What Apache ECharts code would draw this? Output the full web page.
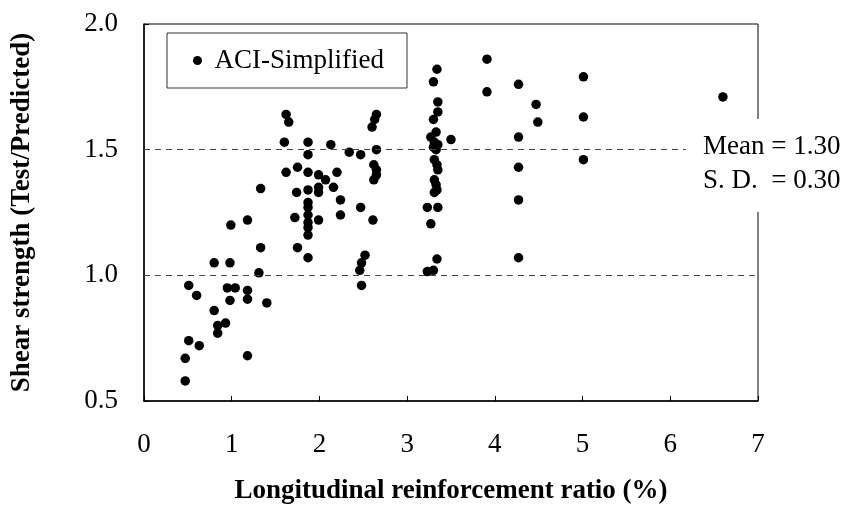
<!DOCTYPE html>
<html>
<head>
<meta charset="utf-8">
<script src="https://cdn.jsdelivr.net/npm/echarts@6/dist/echarts.min.js"></script>
<style>
  html, body { margin: 0; padding: 0; background: #fff; }
  #chart { width: 852px; height: 529px; }
</style>
</head>
<body>
<div id="chart"></div>
<script>
// longitudinal reinforcement ratio (%) and test/predicted strength
const ratio = [
  0.47, 0.47, 0.51, 0.63, 0.51, 0.60, 0.80, 0.80, 0.84, 0.93, 0.84, 0.99,
  0.98, 0.95, 1.04, 0.98, 1.18, 1.18, 1.18, 1.18, 1.33, 1.31, 1.40, 1.33,
  1.62, 1.65, 1.60, 1.87, 1.87, 2.13, 2.34, 1.62, 1.75, 1.87, 1.99, 2.07,
  2.20, 1.74, 1.87, 1.99, 1.99, 2.16, 2.24, 2.24, 1.87, 1.87, 1.87, 1.87,
  1.87, 1.87, 1.72, 1.99, 1.75, 1.87,
  2.65, 2.63, 2.60, 2.65, 2.47, 2.62, 2.65, 2.65, 2.62, 2.47, 2.61, 2.52,
  2.48, 2.46, 2.48,
  3.34, 3.30, 3.35, 3.35, 3.30, 3.33, 3.27, 3.31, 3.50, 3.35, 3.30, 3.33,
  3.31, 3.34, 3.35, 3.31, 3.33, 3.34, 3.31, 3.23, 3.35, 3.27, 3.34, 3.30,
  3.23,
  3.91, 3.91, 4.27, 4.47, 4.49, 4.27, 4.27, 4.27, 4.27, 5.01, 5.01, 5.01,
  6.60
];
const strength = [
  0.58, 0.67, 0.74, 0.72, 0.96, 0.92, 1.05, 0.86, 0.80, 0.81, 0.77, 1.20,
  1.05, 0.95, 0.95, 0.90, 1.22, 0.94, 0.905, 0.68, 1.11, 1.01, 0.89, 1.345,
  1.64, 1.61, 1.53, 1.53, 1.48, 1.52, 1.49, 1.41, 1.43, 1.41, 1.40, 1.38,
  1.41, 1.33, 1.34, 1.35, 1.33, 1.35, 1.30, 1.24, 1.29, 1.27, 1.24, 1.21,
  1.19, 1.16, 1.23, 1.22, 1.11, 1.07,
  1.64, 1.62, 1.59, 1.50, 1.48, 1.44, 1.42, 1.40, 1.38, 1.27, 1.22, 1.08,
  1.05, 1.02, 0.96,
  1.82, 1.77, 1.69, 1.65, 1.62, 1.57, 1.55, 1.53, 1.54, 1.52, 1.51, 1.50,
  1.46, 1.44, 1.42, 1.38, 1.36, 1.34, 1.33, 1.27, 1.27, 1.205, 1.065, 1.02,
  1.015,
  1.86, 1.73, 1.76, 1.68, 1.61, 1.55, 1.43, 1.30, 1.07, 1.79, 1.63, 1.46,
  1.71
];
const refLines = [1.5, 1.0];
const seriesName = 'ACI-Simplified';
const statsText = ['Mean = 1.30', 'S. D.  = 0.30'];

const serif = '"Liberation Serif", "Times New Roman", serif';
const points = ratio.map((r, i) => [r, strength[i]]);

const chart = echarts.init(document.getElementById('chart'), null, { renderer: 'canvas' });

chart.setOption({
  animation: false,
  backgroundColor: '#fff',
  grid: {
    left: 144, right: 94, top: 24, bottom: 128,
    show: true, borderColor: '#000', borderWidth: 1
  },
  legend: {
    left: 167, top: 33,
    data: [seriesName],
    icon: 'circle',
    itemWidth: 24, itemHeight: 9,
    padding: [14, 23, 14, 26],
    borderColor: '#333', borderWidth: 1,
    textStyle: { fontFamily: serif, fontSize: 27, color: '#000' }
  },
  xAxis: {
    type: 'value', min: 0, max: 7, interval: 1,
    name: 'Longitudinal reinforcement ratio (%)',
    nameLocation: 'middle', nameGap: 77,
    nameTextStyle: { fontFamily: serif, fontSize: 27, fontWeight: 'bold', color: '#000' },
    axisLine: { lineStyle: { color: '#000', width: 1.5 } },
    axisTick: { inside: true, length: 5, lineStyle: { color: '#000' } },
    axisLabel: { margin: 30, fontFamily: serif, fontSize: 27, color: '#000' },
    splitLine: { show: false }
  },
  yAxis: {
    type: 'value', min: 0.5, max: 2.0, interval: 0.5,
    name: 'Shear strength (Test/Predicted)',
    nameLocation: 'middle', nameGap: 108, nameRotate: 90,
    nameTextStyle: { fontFamily: serif, fontSize: 27, fontWeight: 'bold', color: '#000' },
    axisLine: { lineStyle: { color: '#000', width: 1.5 } },
    axisTick: { inside: true, length: 5, lineStyle: { color: '#000' } },
    axisLabel: {
      margin: 26, fontFamily: serif, fontSize: 27, color: '#000',
      formatter: v => v.toFixed(1)
    },
    splitLine: { show: false }
  },
  series: [{
    name: seriesName,
    type: 'scatter',
    data: points,
    symbol: 'circle',
    symbolSize: 9.5,
    itemStyle: { color: '#000', opacity: 1 },
    markLine: {
      silent: true,
      symbol: 'none',
      label: { show: false },
      lineStyle: { color: '#444', width: 1, type: [6, 5] },
      data: refLines.map(v => ({ yAxis: v }))
    }
  }],
  graphic: [{
    type: 'rect',
    z: 100,
    shape: { x: 686, y: 119, width: 166, height: 93 },
    style: { fill: '#fff' }
  }, {
    type: 'text',
    z: 101,
    x: 703, y: 130,
    style: {
      text: statsText.join('\n'),
      font: '27px ' + serif,
      lineHeight: 34,
      fill: '#000'
    }
  }]
});
</script>
</body>
</html>
